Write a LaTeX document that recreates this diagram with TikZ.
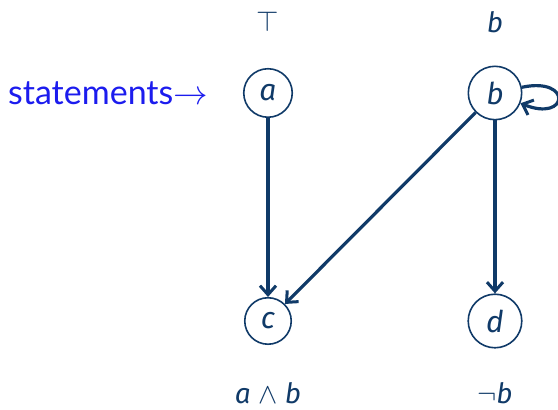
\documentclass[tikz,border=0pt]{standalone}
\usepackage{amsmath, amssymb}
\usepackage{fontspec}
\setmainfont{Fira Sans}
\newfontfamily\handfont{Lato}
\usepackage{tikz}
\usetikzlibrary{arrows.meta, positioning}
\definecolor{navy}{RGB}{16,58,104}
\definecolor{penblue}{RGB}{28,28,238}

\begin{document}
\begin{tikzpicture}[x=10pt, y=10pt,
    state/.style={circle, draw=navy, line width=0.8pt, inner sep=4.4pt, text=navy, font=\fontsize{15}{17}\selectfont\itshape},
    value/.style={text=navy, font=\fontsize{14}{16}\selectfont},
    link/.style={-{Straight Barb[length=4.5pt, width=8pt, line width=1.5pt]}, line width=1.6pt, draw=navy}]
  \useasboundingbox (0,0) rectangle (27.9,20.5);

  % the four statements
  \node[state] (a) at (13.4,15.85) {a};
  \node[state] (b) at (24.75,15.85) {b};
  \node[state] (c) at (13.4,4.45) {c};
  \node[state] (d) at (24.75,4.45) {d};

  \node[value] (ta) at (13.4,19.4) {$\top$};
  \node[value] (tb) at (24.75,19.4) {\itshape b};
  \node[value] (tc) at (13.4,0.85) {\textit{a} $\wedge$ \textit{b}};
  \node[value] (td) at (24.75,0.85) {$\neg$\textit{b}};

  \node[text=penblue, font=\handfont\fontsize{17}{19}\selectfont] (lbl) at (5.4,15.85) {statements$\rightarrow$};

  \draw[link] (a) -- (c);
  \draw[link] (b) -- (c);
  \draw[link] (b) -- (d);
  \draw[link] (b) to[out=12, in=-22, distance=26pt] (b);
\end{tikzpicture}
\end{document}
